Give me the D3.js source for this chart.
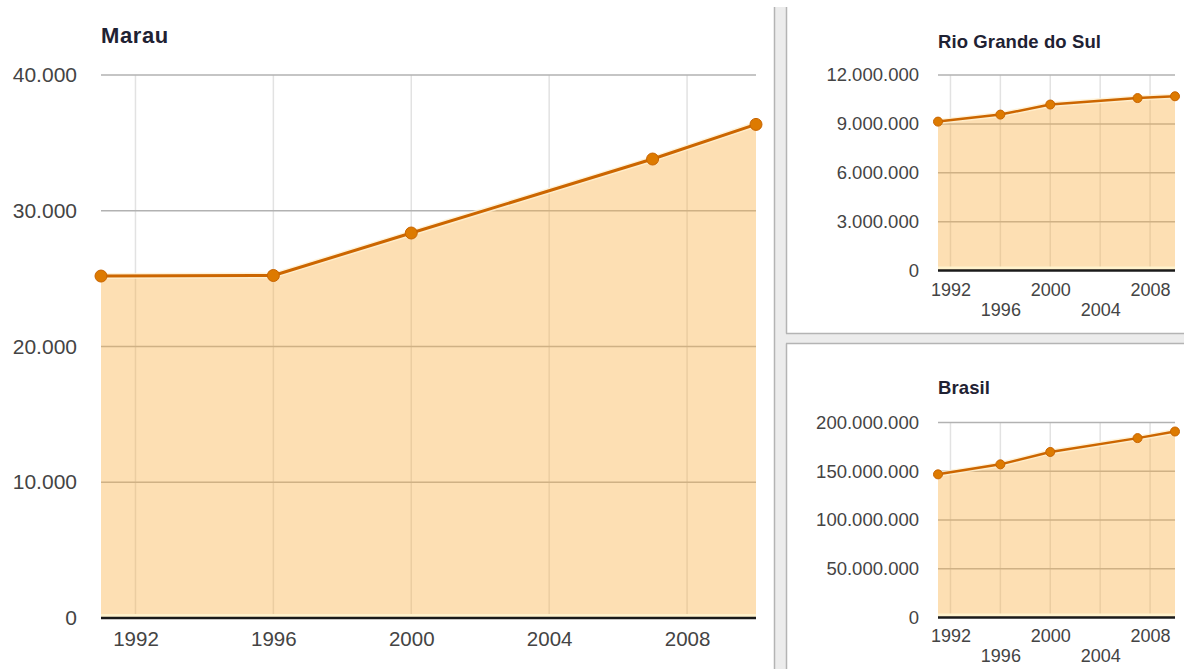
<!DOCTYPE html>
<html><head><meta charset="utf-8">
<script src="https://cdn.jsdelivr.net/npm/d3@7/dist/d3.min.js"></script>
<style>
html,body{margin:0;padding:0;background:#fff;}
svg{display:block;font-family:"Liberation Sans",Arial,sans-serif;}
</style></head>
<body>
<svg id="c" width="1184" height="669"></svg>
<script>
// ---- data ----
const years = [1991, 1996, 2000, 2007, 2010];
const marauValues = [25190, 25230, 28360, 33810, 36360];
const rsValues = [9138670, 9570000, 10187798, 10582840, 10693929];
const brasilValues = [146825475, 157070163, 169799170, 183987291, 190755799];
const xTickYears = [1992, 1996, 2000, 2004, 2008];
const marauTicks = [0, 10000, 20000, 30000, 40000];
const rsTicks = [0, 3000000, 6000000, 9000000, 12000000];
const brasilTicks = [0, 50000000, 100000000, 150000000, 200000000];
const titles = ["Marau", "Rio Grande do Sul", "Brasil"];

const loc = d3.formatLocale({decimal: ",", thousands: ".", grouping: [3], currency: ["R$", ""]});
const fmt = loc.format(",d");

const svg = d3.select("#c");

// panel frame strips
const frame = svg.append("g");
frame.append("rect").attr("x", 775).attr("y", 7).attr("width", 11).attr("height", 662).attr("fill", "#ececec");
frame.append("rect").attr("x", 775).attr("y", 334).attr("width", 409).attr("height", 9).attr("fill", "#ececec");
frame.append("line").attr("x1", 774.5).attr("x2", 774.5).attr("y1", 7).attr("y2", 669).attr("stroke", "#b4b4b4").attr("stroke-width", 1.5);
frame.append("line").attr("x1", 786.5).attr("x2", 786.5).attr("y1", 7).attr("y2", 333.5).attr("stroke", "#b4b4b4").attr("stroke-width", 1.5);
frame.append("line").attr("x1", 786.5).attr("x2", 786.5).attr("y1", 343.5).attr("y2", 669).attr("stroke", "#b4b4b4").attr("stroke-width", 1.5);
frame.append("line").attr("x1", 786).attr("x2", 1184).attr("y1", 333.5).attr("y2", 333.5).attr("stroke", "#b4b4b4").attr("stroke-width", 1.5);
frame.append("line").attr("x1", 786).attr("x2", 1184).attr("y1", 343.5).attr("y2", 343.5).attr("stroke", "#b4b4b4").attr("stroke-width", 1.5);

function panel(cfg) {
  const g = svg.append("g");
  const x = d3.scaleLinear().domain([years[0], years[years.length - 1]]).range([cfg.left, cfg.right]);
  const y = d3.scaleLinear().domain([0, cfg.ticks[cfg.ticks.length - 1]]).range([cfg.bottom, cfg.top]);

  // vertical grid
  g.selectAll(".vg").data(xTickYears).join("line")
    .attr("x1", d => x(d)).attr("x2", d => x(d))
    .attr("y1", cfg.top).attr("y2", cfg.bottom)
    .attr("stroke", "#e2e2e2").attr("stroke-width", cfg.vgw);
  // horizontal grid
  g.selectAll(".hg").data(cfg.ticks.slice(1)).join("line")
    .attr("x1", cfg.left).attr("x2", cfg.right)
    .attr("y1", d => y(d)).attr("y2", d => y(d))
    .attr("stroke", "#b2b2b2").attr("stroke-width", cfg.hgw);

  const pts = years.map((yr, i) => [yr, cfg.values[i]]);
  const area = d3.area().x(d => x(d[0])).y0(y(0)).y1(d => y(d[1]));
  g.append("path").datum(pts).attr("d", area)
    .attr("fill", "#fbb040").attr("fill-opacity", 0.4);
  // light strip above baseline
  g.append("line").attr("x1", cfg.left).attr("x2", cfg.right)
    .attr("y1", y(0) - 2.5).attr("y2", y(0) - 2.5)
    .attr("stroke", "#fff2cc").attr("stroke-width", 3);
  // baseline
  g.append("line").attr("x1", cfg.left).attr("x2", cfg.right)
    .attr("y1", y(0)).attr("y2", y(0))
    .attr("stroke", "#1a1a1a").attr("stroke-width", cfg.basew);

  const line = d3.line().x(d => x(d[0])).y(d => y(d[1]));
  g.append("path").datum(pts).attr("d", line)
    .attr("fill", "none").attr("stroke", "#fff0d0").attr("stroke-opacity", 0.8)
    .attr("stroke-width", cfg.lw + 3).attr("stroke-linejoin", "round");
  g.append("path").datum(pts).attr("d", line)
    .attr("fill", "none").attr("stroke", "#cc6600").attr("stroke-width", cfg.lw)
    .attr("stroke-linejoin", "round");
  g.selectAll(".pt").data(pts).join("circle")
    .attr("cx", d => x(d[0])).attr("cy", d => y(d[1])).attr("r", cfg.r)
    .attr("fill", "#dd7a00").attr("stroke", "#c86400").attr("stroke-width", 1);

  // y axis labels
  const ya = d3.axisLeft(y).tickValues(cfg.ticks).tickFormat(fmt).tickSize(0).tickPadding(cfg.ypad);
  const yg = g.append("g").attr("transform", `translate(${cfg.left},0)`).call(ya);
  yg.select(".domain").remove();
  yg.selectAll("text").attr("fill", "#444").style("font-size", cfg.yfs + "px")
    .style("font-family", '"Liberation Sans",Arial,sans-serif');

  // x axis labels
  const xa = d3.axisBottom(x).tickValues(xTickYears).tickFormat(d3.format("d")).tickSize(0);
  const xg = g.append("g").attr("transform", `translate(0,${cfg.bottom})`).call(xa);
  xg.select(".domain").remove();
  xg.selectAll("text").attr("fill", "#444").style("font-size", cfg.xfs + "px")
    .style("font-family", '"Liberation Sans",Arial,sans-serif')
    .attr("dy", 0)
    .attr("y", (d, i) => cfg.stagger && i % 2 === 1 ? cfg.xy2 : cfg.xy1);

  // title
  g.append("text").attr("x", cfg.left).attr("y", cfg.titleY)
    .attr("fill", "#1f2233").style("font-weight", "bold").style("font-size", cfg.tfs + "px")
    .style("letter-spacing", cfg.tls + "px")
    .text(cfg.title);
}

panel({title: titles[0], values: marauValues, ticks: marauTicks,
  left: 101, right: 756, top: 75, bottom: 618, titleY: 43, tfs: 22, tls: 0.6,
  yfs: 21, ypad: 24, xfs: 20.5, xy1: 28, xy2: 28, stagger: false,
  lw: 3, r: 6, vgw: 1.5, hgw: 1.5, basew: 2.5});

panel({title: titles[1], values: rsValues, ticks: rsTicks,
  left: 938, right: 1175, top: 75, bottom: 270.5, titleY: 48, tfs: 18.5, tls: 0.1,
  yfs: 18.5, ypad: 19, xfs: 18, xy1: 25, xy2: 45, stagger: true,
  lw: 2.5, r: 4.5, vgw: 1.5, hgw: 1.5, basew: 2.5});

panel({title: titles[2], values: brasilValues, ticks: brasilTicks,
  left: 938, right: 1175, top: 422.5, bottom: 617.5, titleY: 394, tfs: 18.5, tls: 0.1,
  yfs: 18.5, ypad: 19, xfs: 18, xy1: 24.5, xy2: 44.5, stagger: true,
  lw: 2.5, r: 4.5, vgw: 1.5, hgw: 1.5, basew: 2.5});
</script>
</body></html>
